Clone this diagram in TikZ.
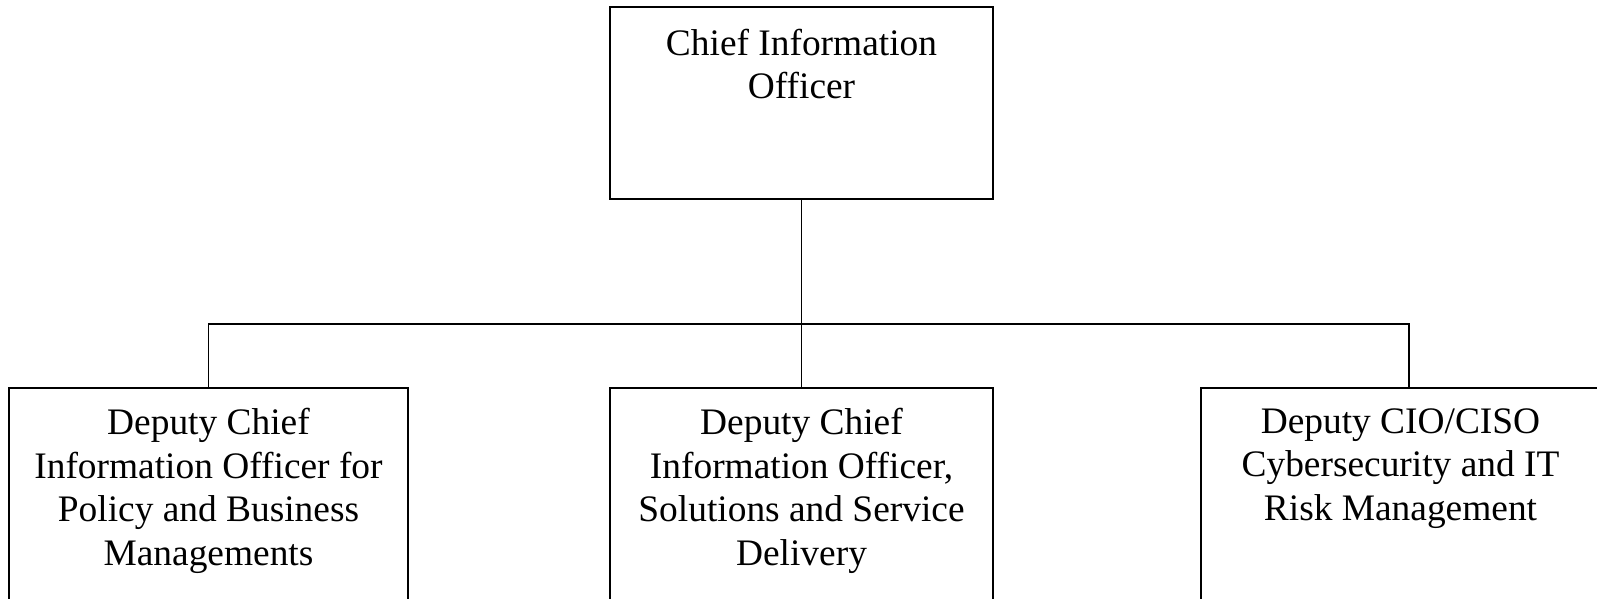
\documentclass[tikz,border=0pt]{standalone}
\usepackage{fontspec}
\setmainfont{Liberation Serif}
\begin{document}
\begin{tikzpicture}[x=1pt,y=-1pt,
  box/.style={draw=black,line width=1.6pt,rectangle,inner sep=0pt},
  txt/.style={anchor=north,align=center,inner sep=0pt,font=\fontsize{37.4}{43.5}\selectfont},
  conn/.style={draw=black,line width=1.6pt}]
\useasboundingbox (0,0) rectangle (1597,599);
\clip (0,0) rectangle (1597,599);
% boxes
\node[box,minimum width=383pt,minimum height=192pt] (cio) at (801.5,103) {};
\node[box,minimum width=399pt,minimum height=320pt] (pol) at (208.5,548) {};
\node[box,minimum width=383pt,minimum height=320pt] (sol) at (801.5,548) {};
\node[box,minimum width=399pt,minimum height=320pt] (cyb) at (1400.5,548) {};
% texts
\node[txt] (tcio) at ([yshift=-22.5pt]cio.north) {Chief Information\\Officer};
\node[txt] (tpol) at ([yshift=-21pt]pol.north) {Deputy Chief\\Information Officer for\\Policy and Business\\Managements};
\node[txt] (tsol) at ([yshift=-21pt]sol.north) {Deputy Chief\\Information Officer,\\Solutions and Service\\Delivery};
\node[txt] (tcyb) at ([yshift=-21pt]cyb.north) {Deputy CIO/CISO\\Cybersecurity and IT\\Risk Management};
% connectors
\coordinate (bus) at (801.5,324);
\coordinate (cybtop) at (1409,388);
\draw[conn] (cio.south) -- (sol.north);
\draw[conn] (pol.north) -- (pol.north |- bus) -- (cybtop |- bus) -- (cybtop);
\end{tikzpicture}
\end{document}
